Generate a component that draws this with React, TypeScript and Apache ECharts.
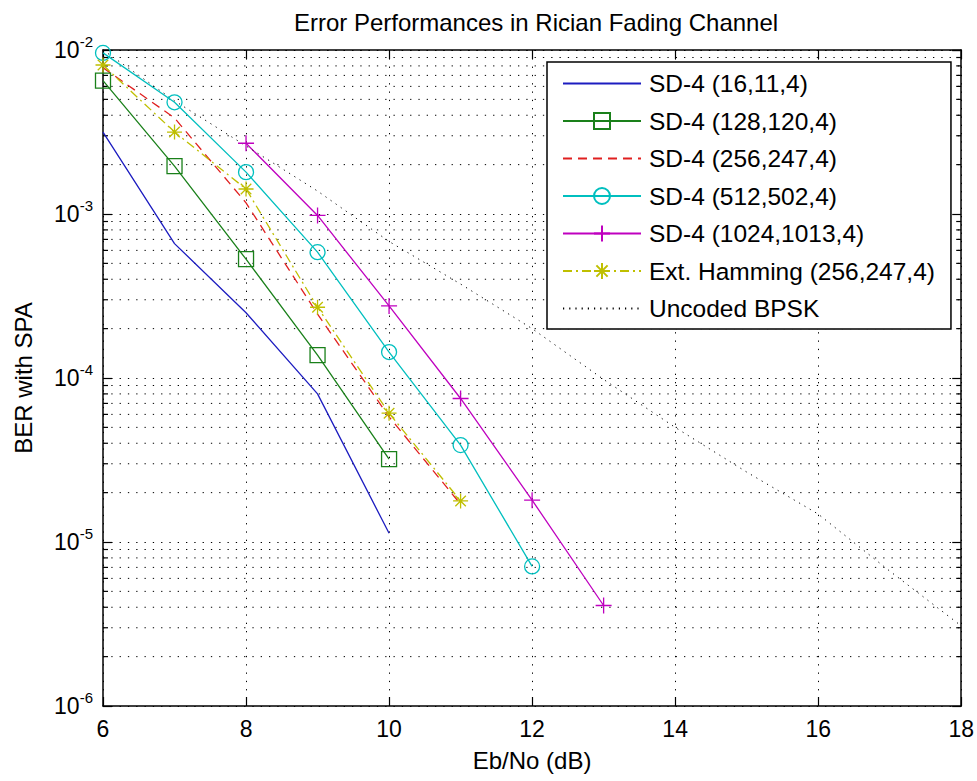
import React, { useEffect, useRef } from "react";
import * as echarts from "echarts";

const TITLE = "Error Performances in Rician Fading Channel";
const X_NAME = "Eb/No (dB)";
const Y_NAME = "BER with SPA";
const X_MIN = 6;
const X_MAX = 18;
const X_INTERVAL = 2;
const Y_MIN = 1e-6;
const Y_MAX = 1e-2;

const SERIES_NAMES = [
  "SD-4 (16,11,4)",
  "SD-4 (128,120,4)",
  "SD-4 (256,247,4)",
  "SD-4 (512,502,4)",
  "SD-4 (1024,1013,4)",
  "Ext. Hamming (256,247,4)",
  "Uncoded BPSK",
];

const X_SD16 = [6, 7, 8, 9, 10];
const Y_SD16 = [3.16e-3, 6.6e-4, 2.5e-4, 8.0e-5, 1.13e-5];

const X_SD128 = [6, 7, 8, 9, 10];
const Y_SD128 = [6.5e-3, 1.96e-3, 5.3e-4, 1.38e-4, 3.2e-5];

const X_SD256 = [6, 7, 8, 9, 10, 11];
const Y_SD256 = [7.8e-3, 3.85e-3, 1.17e-3, 2.45e-4, 5.8e-5, 1.7e-5];

const X_SD512 = [6, 7, 8, 9, 10, 11, 12];
const Y_SD512 = [9.6e-3, 4.8e-3, 1.8e-3, 5.85e-4, 1.44e-4, 3.9e-5, 7.1e-6];

const X_SD1024 = [8, 9, 10, 11, 12, 13];
const Y_SD1024 = [2.7e-3, 9.8e-4, 2.75e-4, 7.5e-5, 1.8e-5, 4.1e-6];

const X_HAMMING = [6, 7, 8, 9, 10, 11];
const Y_HAMMING = [8.1e-3, 3.16e-3, 1.42e-3, 2.7e-4, 6.1e-5, 1.78e-5];

const X_BPSK = [6, 7, 8, 9, 10, 11, 12, 13, 14, 15, 16, 17, 18];
const Y_BPSK = [
  1.0e-2, 4.9e-3, 2.6e-3, 1.38e-3, 6.8e-4, 3.74e-4, 2.0e-4, 9.8e-5, 5.0e-5,
  2.67e-5, 1.48e-5, 6.65e-6, 3.08e-6,
];

const MINOR_MANTISSAS = [2, 3, 4, 5, 6, 7, 8, 9];
const MINOR_EXPONENTS = [-6, -5, -4, -3];

const FONT = "'Liberation Sans', Arial, Helvetica, sans-serif";

const SYM_SQUARE = "path://M0 0L10 0L10 10L0 10Z";
const SYM_CIRCLE = "path://M0 5A5 5 0 1 0 10 5A5 5 0 1 0 0 5Z";
const SYM_PLUS = "path://M5 0L5 10M0 5L10 5";
const SYM_STAR = "path://M5 0L5 10M0 5L10 5M1.5 1.5L8.5 8.5M1.5 8.5L8.5 1.5";

const GRID_DASH = [1.3, 7];

function pairs(xs: number[], ys: number[]) {
  return xs.map((x, i) => [x, ys[i]]);
}

function lineSeries(
  name: string,
  xs: number[],
  ys: number[],
  color: string,
  lineType: any,
  symbol: string | null,
  symbolSize: number,
  width = 1.3
) {
  const hasSymbol = symbol !== null;
  return {
    name,
    type: "line",
    data: pairs(xs, ys),
    xAxisIndex: 0,
    yAxisIndex: 0,
    symbol: hasSymbol ? symbol : SYM_SQUARE,
    symbolSize: hasSymbol ? symbolSize : 0,
    symbolKeepAspect: true,
    showSymbol: hasSymbol,
    showAllSymbol: true,
    clip: !hasSymbol ? true : false,
    z: 3,
    lineStyle: { color, width, type: lineType },
    itemStyle: {
      color: "rgba(0,0,0,0)",
      borderColor: hasSymbol ? color : "rgba(0,0,0,0)",
      borderWidth: hasSymbol ? 1.3 : 0,
    },
    emphasis: { disabled: true },
  };
}

export default function App() {
  const ref = useRef<HTMLDivElement>(null);

  useEffect(() => {
    if (!ref.current) return;
    const chart = echarts.init(ref.current, undefined, { renderer: "svg" });

    const minorY: number[][] = [];
    MINOR_EXPONENTS.forEach((e) => {
      MINOR_MANTISSAS.forEach((m) => {
        minorY.push([X_MIN, m * Math.pow(10, e)]);
      });
    });

    const axisLineStyle = { color: "#000", width: 1.5 };

    const option: any = {
      animation: false,
      backgroundColor: "#fff",
      title: {
        text: TITLE,
        left: 531,
        top: 5,
        textAlign: "center",
        textStyle: {
          fontFamily: FONT,
          fontSize: 24,
          fontWeight: "normal",
          color: "#000",
        },
      },
      grid: { left: 103, top: 50, width: 859, height: 656 },
      legend: {
        data: SERIES_NAMES,
        orient: "vertical",
        left: 547,
        top: 62,
        backgroundColor: "#fff",
        borderColor: "#000",
        borderWidth: 1.5,
        borderRadius: 0,
        padding: [9, 16, 8, 15],
        itemWidth: 78,
        itemHeight: 20,
        itemGap: 12.5,
        selectedMode: false,
        textStyle: {
          fontFamily: FONT,
          fontSize: 24.5,
          color: "#000",
          lineHeight: 24,
          padding: [0, 0, 0, 3],
        },
      },
      xAxis: [
        {
          type: "value",
          min: X_MIN,
          max: X_MAX,
          interval: X_INTERVAL,
          position: "bottom",
          name: X_NAME,
          nameLocation: "middle",
          nameGap: 42,
          nameTextStyle: { fontFamily: FONT, fontSize: 24, color: "#000" },
          axisLine: { show: true, onZero: false, lineStyle: axisLineStyle },
          axisTick: { show: true, inside: true, length: 9, lineStyle: { color: "#000", width: 1.2 } },
          axisLabel: { fontFamily: FONT, fontSize: 23, color: "#000", margin: 11 },
          splitLine: { show: true, lineStyle: { color: "#000", width: 1, type: GRID_DASH } },
        },
        {
          type: "value",
          min: X_MIN,
          max: X_MAX,
          interval: X_INTERVAL,
          position: "top",
          axisLine: { show: true, onZero: false, lineStyle: axisLineStyle },
          axisTick: { show: true, inside: true, length: 9, lineStyle: { color: "#000", width: 1.2 } },
          axisLabel: { show: false },
          splitLine: { show: false },
        },
      ],
      yAxis: [
        {
          type: "log",
          logBase: 10,
          min: Y_MIN,
          max: Y_MAX,
          position: "left",
          name: Y_NAME,
          nameLocation: "middle",
          nameGap: 68,
          nameRotate: 90,
          nameTextStyle: { fontFamily: FONT, fontSize: 24, color: "#000" },
          axisLine: { show: true, onZero: false, lineStyle: axisLineStyle },
          axisTick: { show: true, inside: true, length: 9, lineStyle: { color: "#000", width: 1.2 } },
          axisLabel: {
            margin: 10,
            formatter: (v: number) => {
              const e = Math.round(Math.log10(v));
              return "{b|10}{s|" + e + "}";
            },
            rich: {
              b: { fontFamily: FONT, fontSize: 23, color: "#000", lineHeight: 32 },
              s: { fontFamily: FONT, fontSize: 15, color: "#000", lineHeight: 16, verticalAlign: "top" },
            },
          },
          splitLine: { show: true, lineStyle: { color: "#000", width: 1, type: GRID_DASH } },
        },
        {
          type: "log",
          logBase: 10,
          min: Y_MIN,
          max: Y_MAX,
          position: "right",
          axisLine: { show: true, onZero: false, lineStyle: axisLineStyle },
          axisTick: { show: true, inside: true, length: 9, lineStyle: { color: "#000", width: 1.2 } },
          axisLabel: { show: false },
          splitLine: { show: false },
        },
      ],
      series: [
        {
          name: "minor-grid",
          type: "custom",
          coordinateSystem: "cartesian2d",
          xAxisIndex: 0,
          yAxisIndex: 0,
          silent: true,
          clip: false,
          z: 1,
          encode: { x: 0, y: 1 },
          data: minorY,
          renderItem: (params: any, api: any) => {
            const v = api.value(1);
            const a = api.coord([X_MIN, v]);
            const b = api.coord([X_MAX, v]);
            return {
              type: "group",
              children: [
                {
                  type: "line",
                  shape: { x1: a[0], y1: a[1], x2: b[0], y2: b[1] },
                  style: { stroke: "#000", lineWidth: 1, lineDash: GRID_DASH },
                },
                {
                  type: "line",
                  shape: { x1: a[0], y1: a[1], x2: a[0] + 5, y2: a[1] },
                  style: { stroke: "#000", lineWidth: 1.2 },
                },
                {
                  type: "line",
                  shape: { x1: b[0] - 5, y1: b[1], x2: b[0], y2: b[1] },
                  style: { stroke: "#000", lineWidth: 1.2 },
                },
              ],
            };
          },
        },
        lineSeries(SERIES_NAMES[0], X_SD16, Y_SD16, "#1c1cc0", "solid", null, 0),
        lineSeries(SERIES_NAMES[1], X_SD128, Y_SD128, "#1a801a", "solid", SYM_SQUARE, 15),
        lineSeries(SERIES_NAMES[2], X_SD256, Y_SD256, "#e02020", [9, 6], null, 0),
        lineSeries(SERIES_NAMES[3], X_SD512, Y_SD512, "#00bfbf", "solid", SYM_CIRCLE, 15),
        lineSeries(SERIES_NAMES[4], X_SD1024, Y_SD1024, "#bf00bf", "solid", SYM_PLUS, 16),
        lineSeries(SERIES_NAMES[5], X_HAMMING, Y_HAMMING, "#bfbf00", [9, 4, 2, 4], SYM_STAR, 15),
        lineSeries(SERIES_NAMES[6], X_BPSK, Y_BPSK, "#000", [1.2, 5], null, 0, 1),
      ],
    };

    chart.setOption(option);
    return () => chart.dispose();
  }, []);

  return (
    <div
      ref={ref}
      style={{ position: "absolute", left: 0, top: 0, width: 977, height: 781 }}
    />
  );
}
